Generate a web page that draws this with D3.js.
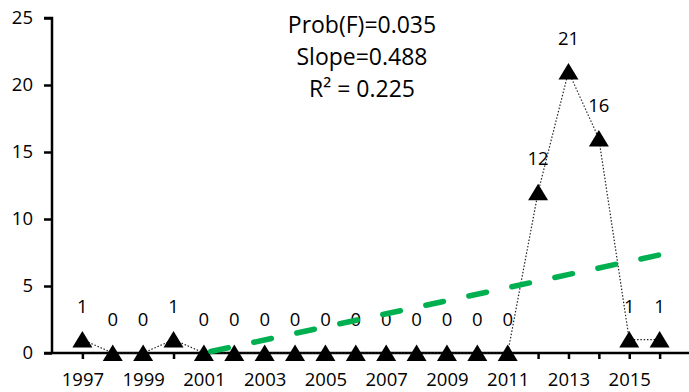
<!DOCTYPE html>
<html>
<head>
<meta charset="utf-8">
<script src="https://cdn.jsdelivr.net/npm/d3@7"></script>
<style>
  html, body { margin: 0; padding: 0; background: #fff; }
  svg { display: block; font-family: "Open Sans", sans-serif; }
</style>
</head>
<body>
<svg id="chart" width="689" height="392"></svg>
<script>
// Yearly counts
const years  = [1997, 1998, 1999, 2000, 2001, 2002, 2003, 2004, 2005, 2006,
                2007, 2008, 2009, 2010, 2011, 2012, 2013, 2014, 2015, 2016];
const counts = [1, 0, 0, 1, 0, 0, 0, 0, 0, 0,
                0, 0, 0, 0, 0, 12, 21, 16, 1, 1];

// Linear trend fitted from 2001 onwards
const trendYears = [2001, 2016];
const trendSlope = 0.488;
const trendIntercept = 0;   // value at 2001

const yTicks = [0, 5, 10, 15, 20, 25];
const xLabelYears = [1997, 1999, 2001, 2003, 2005, 2007, 2009, 2011, 2013, 2015];
const statsLines = ["Prob(F)=0.035", "Slope=0.488", "R\u00B2 = 0.225"];

const FONT = "'Open Sans', sans-serif";
const LABEL_SIZE = 18.5;

const svg = d3.select("#chart");

const x = d3.scaleLinear().domain([1996, 2017]).range([52, 690]);
const y = d3.scaleLinear().domain([0, 25]).range([353, 18]);

// Y axis
const yAxis = d3.axisLeft(y).tickValues(yTicks).tickSize(8).tickPadding(11);
const gy = svg.append("g").attr("transform", `translate(${x(1996)},0)`).call(yAxis)
  .attr("font-size", LABEL_SIZE).attr("font-family", FONT);
gy.select(".domain").attr("stroke", "#000").attr("stroke-width", 2.5)
  .attr("d", `M-8,${y(25)}H0V${y(0)}`);
gy.selectAll(".tick line").attr("stroke", "#000").attr("stroke-width", 2.5);
gy.selectAll(".tick text").attr("fill", "#000");

// X axis: tick at every year, labels on odd years
const xAxis = d3.axisBottom(x).tickValues(years).tickSize(6).tickPadding(14)
  .tickFormat(d => xLabelYears.includes(d) ? String(d) : "");
const gx = svg.append("g").attr("transform", `translate(0,${y(0)})`).call(xAxis)
  .attr("font-size", LABEL_SIZE).attr("font-family", FONT);
gx.select(".domain").attr("stroke", "#000").attr("stroke-width", 2.5)
  .attr("d", `M${x(1996) - 8},0H${x(2017)}`);
gx.selectAll(".tick line").attr("stroke", "#000").attr("stroke-width", 2.5);
gx.selectAll(".tick text").attr("fill", "#000");

const pts = years.map((yr, i) => ({ year: yr, value: counts[i] }));

// Dotted connector
svg.append("path")
  .datum(pts)
  .attr("fill", "none")
  .attr("stroke", "#222")
  .attr("stroke-width", 1.2)
  .attr("stroke-dasharray", "1.5 1.8")
  .attr("d", d3.line().x(d => x(d.year)).y(d => y(d.value)));

// Triangle markers
svg.append("g").selectAll("path")
  .data(pts)
  .join("path")
  .attr("fill", "#000")
  .attr("d", d => {
    const cx = x(d.year), cy = y(d.value);
    return `M${cx},${cy - 8.5}L${cx + 10},${cy + 8}L${cx - 10},${cy + 8}Z`;
  });

// Value labels
svg.append("g").selectAll("text")
  .data(pts)
  .join("text")
  .attr("x", d => x(d.year))
  .attr("y", d => y(d.value) - 27)
  .attr("text-anchor", "middle")
  .attr("font-size", LABEL_SIZE)
  .attr("font-family", FONT)
  .attr("fill", "#000")
  .text(d => d.value);

// Trend line
const trendPts = trendYears.map(yr => ({ year: yr, value: trendIntercept + trendSlope * (yr - trendYears[0]) }));
svg.append("path")
  .datum(trendPts)
  .attr("fill", "none")
  .attr("stroke", "#00b050")
  .attr("stroke-width", 5.5)
  .attr("stroke-linecap", "round")
  .attr("stroke-dasharray", "18 26")
  .attr("stroke-dashoffset", -7)
  .attr("d", d3.line().x(d => x(d.year)).y(d => y(d.value)));

// Regression statistics
svg.append("g").selectAll("text")
  .data(statsLines)
  .join("text")
  .attr("x", 362)
  .attr("y", (d, i) => 33 + i * 32)
  .attr("text-anchor", "middle")
  .attr("font-size", 23)
  .attr("font-family", FONT)
  .attr("fill", "#000")
  .text(d => d);
</script>
</body>
</html>
